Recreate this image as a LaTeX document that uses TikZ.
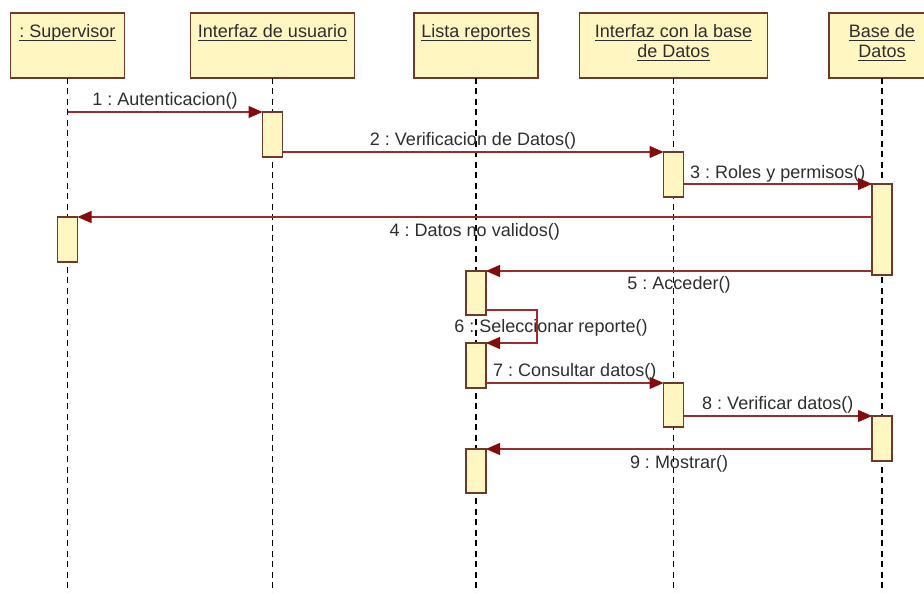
\documentclass[tikz,border=0pt]{standalone}
\usepackage{fontspec}
\setmainfont{Liberation Sans}
\usetikzlibrary{arrows.meta,calc}
\frenchspacing

\definecolor{boxfill}{HTML}{FFF6C2}
\definecolor{boxline}{HTML}{6B3A2A}
\definecolor{msgline}{HTML}{9A2E2E}
\definecolor{msghead}{HTML}{850A0A}
\definecolor{txt}{HTML}{2E2E2E}

% underlined object name, rule drawn just under the baseline
\newcommand\objname[1]{\begingroup\setbox0\hbox{#1}\rlap{\rule[-3.5pt]{\wd0}{1.1pt}}\box0\endgroup}

\tikzset{
  headbox/.style={draw=boxline, fill=boxfill, line width=1.1pt, minimum height=65pt,
    anchor=north west, inner sep=0pt, outer sep=0pt},
  headtext/.style={anchor=base, inner sep=0pt, text=txt, font=\fontsize{18}{20}\selectfont},
  lifeline/.style={draw=black, line width=1.1pt, dash pattern=on 6pt off 4.5pt},
  act/.style={draw=boxline, fill=boxfill, line width=1.1pt, minimum width=20pt,
    anchor=north, inner sep=0pt, outer sep=0pt},
  msg/.style={draw=msgline, line width=1.1pt,
    -{Triangle[length=14pt,width=12pt,fill=msghead,color=msghead]}},
  msglabel/.style={text=txt, font=\fontsize{18}{20}\selectfont, inner sep=1pt},
}

\begin{document}
\begin{tikzpicture}[x=1pt,y=-1pt]
\useasboundingbox (0,0) rectangle (924,593);
\fill[white] (0,0) rectangle (924,593);

% object heads
\node[headbox, minimum width=114pt] (sup) at (10.5,13) {};
\node[headbox, minimum width=164pt] (iu)  at (190.5,13) {};
\node[headbox, minimum width=124pt] (lr)  at (414,13) {};
\node[headbox, minimum width=188pt] (ibd) at (579.5,13) {};
\node[headbox, minimum width=106pt] (bd)  at (829,13) {};

\node[headtext] (tsup) at ($(sup.north)+(0,25)$) {\objname{: Supervisor}};
\node[headtext] (tiu)  at ($(iu.north)+(0,25)$)  {\objname{Interfaz de usuario}};
\node[headtext] (tlr)  at ($(lr.north)+(0,25)$)  {\objname{Lista reportes}};
\node[headtext] (tibd1) at ($(ibd.north)+(0,25)$) {\objname{Interfaz con la base}};
\node[headtext] (tibd2) at ($(ibd.north)+(0,45)$) {\objname{de Datos}};
\node[headtext] (tbd1) at ($(bd.north)+(0,25)$)  {\objname{Base de}};
\node[headtext] (tbd2) at ($(bd.north)+(0,45)$)  {\objname{Datos}};

% lifelines
\foreach \o in {sup,iu,lr,ibd,bd}
  \draw[lifeline] (\o.south) -- (\o.south |- 0,593);

% activation bars
\node[act, minimum height=45pt] (a1) at (iu.south  |- 0,112) {};
\node[act, minimum height=45pt] (a2) at (ibd.south |- 0,152) {};
\node[act, minimum height=91pt] (a3) at (bd.south  |- 0,184) {};
\node[act, minimum height=45pt] (a4) at (sup.south |- 0,217) {};
\node[act, minimum height=44pt] (a5) at (lr.south  |- 0,271) {};
\node[act, minimum height=45pt] (a6) at (lr.south  |- 0,343) {};
\node[act, minimum height=44pt] (a7) at (ibd.south |- 0,383) {};
\node[act, minimum height=45pt] (a8) at (bd.south  |- 0,416) {};
\node[act, minimum height=44pt] (a9) at (lr.south  |- 0,449) {};

% messages
\draw[msg] (sup.south |- a1.north) -- node[msglabel, above=1.5pt] (m1) {1 : Autenticacion()} (a1.north west);
\draw[msg] (a1.east |- a2.north) -- node[msglabel, above=1.5pt] (m2) {2 : Verificacion de Datos()} (a2.north west);
\draw[msg] (a2.east |- a3.north) -- node[msglabel, above=0.5pt] (m3) {3 : Roles y permisos()} (a3.north west);
\draw[msg] (a3.west |- a4.north) -- node[msglabel, below=5pt] (m4) {4 : Datos no validos()} (a4.north east);
\draw[msg] (a3.west |- a5.north) -- node[msglabel, below=4pt] (m5) {5 : Acceder()} (a5.north east);
\draw[msg] ([yshift=5pt]a5.south east) -- ++(51,0) |- (a6.north east);
\node[msglabel] (m6) at ([xshift=65pt,yshift=15pt]a6.north east) {6 : Seleccionar reporte()};
\draw[msg] (a6.east |- a7.north) -- node[msglabel, above=1.5pt] (m7) {7 : Consultar datos()} (a7.north west);
\draw[msg] (a7.east |- a8.north) -- node[msglabel, above=1pt] (m8) {8 : Verificar datos()} (a8.north west);
\draw[msg] (a8.west |- a9.north) -- node[msglabel, below=5pt] (m9) {9 : Mostrar()} (a9.north east);
\end{tikzpicture}
\end{document}
